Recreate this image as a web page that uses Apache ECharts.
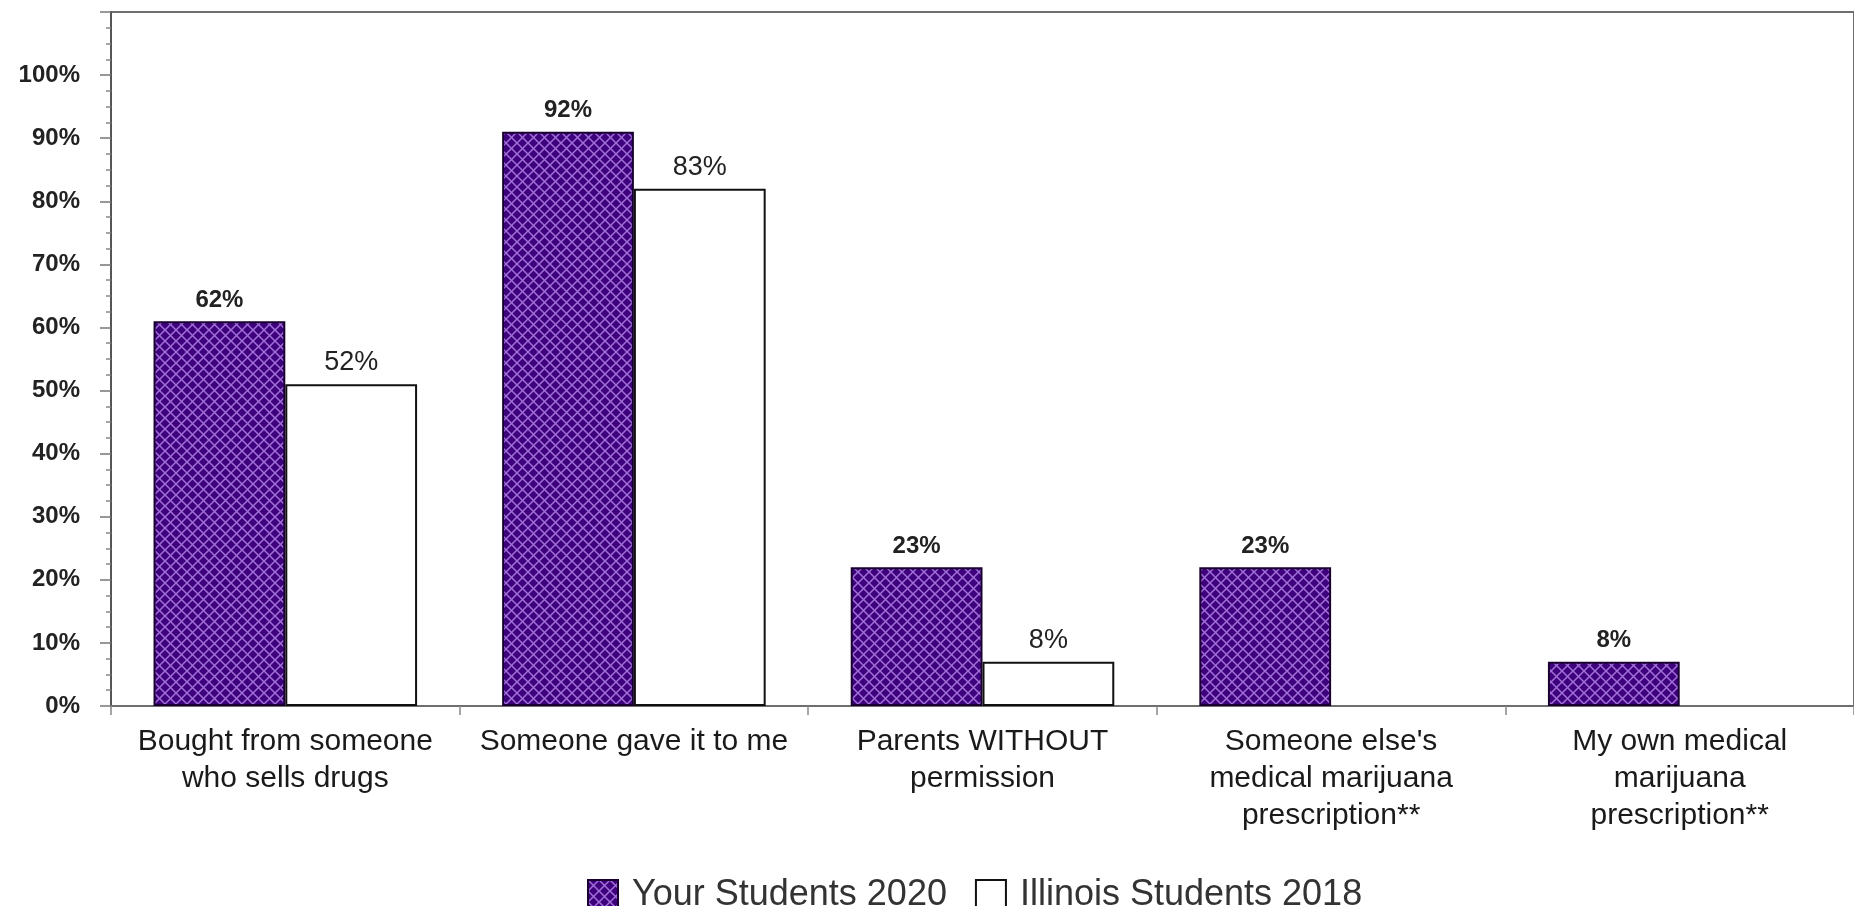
<!DOCTYPE html>
<html>
<head>
<meta charset="utf-8">
<script src="https://cdn.jsdelivr.net/npm/echarts@6/dist/echarts.min.js"></script>
<style>
html,body{margin:0;padding:0;background:#fff;}
#chart{width:1854px;height:906px;}
</style>
</head>
<body>
<div id="chart"></div>
<script>
// ---- data ----
var categories = [
  'Bought from someone\nwho sells drugs',
  'Someone gave it to me',
  'Parents WITHOUT\npermission',
  "Someone else's\nmedical marijuana\nprescription**",
  'My own medical\nmarijuana\nprescription**'
];
var seriesNames = ['Your Students 2020', 'Illinois Students 2018'];
// bar heights as drawn
var yourStudents2020 = [61, 91, 22, 22, 7];
var illinoisStudents2018 = [51, 82, 7, null, null];
// value labels as printed
var yourStudentsLabels = ['62%', '92%', '23%', '23%', '8%'];
var illinoisLabels = ['52%', '83%', '8%', '', ''];
var yTickLabels = ['0%','10%','20%','30%','40%','50%','60%','70%','80%','90%','100%',''];

// ---- crosshatch pattern ----
function makePattern() {
  var c = document.createElement('canvas');
  var s = 11;
  c.width = s; c.height = s;
  var ctx = c.getContext('2d');
  ctx.fillStyle = '#3f007e';
  ctx.fillRect(0, 0, s, s);
  ctx.strokeStyle = '#a070d8';
  ctx.lineWidth = 1.5;
  ctx.beginPath();
  ctx.moveTo(-2, -2); ctx.lineTo(s + 2, s + 2);
  ctx.moveTo(s + 2, -2); ctx.lineTo(-2, s + 2);
  ctx.stroke();
  return c;
}
var pattern = { image: makePattern(), repeat: 'repeat' };

var FONT = '"Liberation Sans", Arial, sans-serif';
var chart = echarts.init(document.getElementById('chart'), null, { renderer: 'canvas' });
chart.setOption({
  backgroundColor: '#ffffff',
  animation: false,
  grid: {
    left: 111, top: 12, width: 1760, height: 694,
    show: true, borderColor: '#6e6e6e', borderWidth: 2, backgroundColor: 'transparent',
    containLabel: false
  },
  legend: {
    left: 582, top: 872,
    itemWidth: 30, itemHeight: 30, itemGap: 28,
    icon: 'rect',
    textStyle: { fontFamily: FONT, fontSize: 36, color: '#333', padding: [0, 0, 0, 9] },
    data: seriesNames
  },
  xAxis: {
    type: 'category',
    data: categories,
    axisLine: { show: true, lineStyle: { color: '#6e6e6e', width: 2 } },
    axisTick: { show: true, alignWithLabel: false, length: 9, lineStyle: { color: '#888', width: 1.5 } },
    axisLabel: {
      interval: 0, margin: 17, fontFamily: FONT, fontSize: 30, lineHeight: 37, color: '#1a1a1a'
    },
    splitLine: { show: false }
  },
  yAxis: {
    type: 'value',
    min: 0, max: 110, interval: 10,
    axisLine: { show: true, lineStyle: { color: '#555', width: 2 } },
    axisTick: { show: true, length: 11, lineStyle: { color: '#777', width: 1.5 } },
    minorTick: { show: true, splitNumber: 4, length: 5, lineStyle: { color: '#888', width: 1.5 } },
    axisLabel: {
      margin: 31, fontFamily: FONT, fontSize: 24, fontWeight: 'bold', color: '#222',
      formatter: function (v, i) { return yTickLabels[Math.round(v / 10)] || ''; }
    },
    splitLine: { show: false }
  },
  series: [
    {
      name: seriesNames[0],
      type: 'bar',
      data: yourStudents2020,
      barGap: '0%',
      barCategoryGap: '24.4%',
      itemStyle: { color: pattern, borderColor: '#1a0030', borderWidth: 2 },
      label: {
        show: true, position: 'top', distance: 9,
        fontFamily: FONT, fontSize: 24, fontWeight: 'bold', color: '#222',
        formatter: function (p) { return yourStudentsLabels[p.dataIndex]; }
      }
    },
    {
      name: seriesNames[1],
      type: 'bar',
      data: illinoisStudents2018,
      barGap: '0%',
      barCategoryGap: '24.4%',
      itemStyle: { color: '#ffffff', borderColor: '#111', borderWidth: 2 },
      label: {
        show: true, position: 'top', distance: 8,
        fontFamily: FONT, fontSize: 27, color: '#222',
        formatter: function (p) { return illinoisLabels[p.dataIndex]; }
      }
    }
  ]
});
</script>
</body>
</html>
